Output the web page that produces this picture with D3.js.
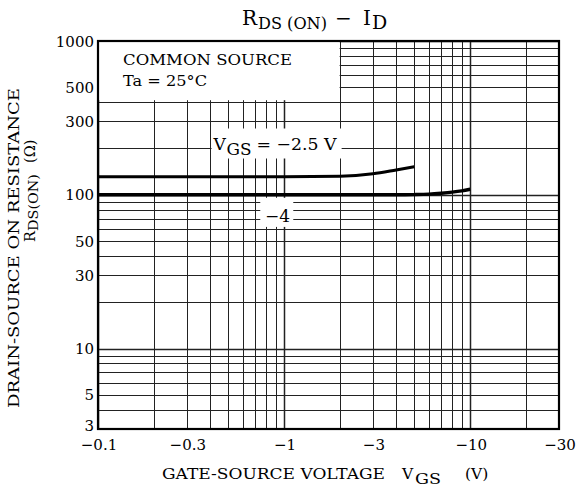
<!DOCTYPE html>
<html><head><meta charset="utf-8">
<script src="https://cdn.jsdelivr.net/npm/d3@7"></script>
<style>
body{margin:0;background:#fff;}
svg text{font-family:"DejaVu Serif","Liberation Serif",serif;fill:#000;}
</style></head>
<body><svg id="c" width="577" height="488"></svg>
<script>
// ---- data ----
const xTickValues = [-0.1, -0.3, -1, -3, -10, -30];
const xTickLabels = ["\u22120.1", "\u22120.3", "\u22121", "\u22123", "\u221210", "\u221230"];
const yTickValues = [3, 5, 10, 30, 50, 100, 300, 500, 1000];
const yTickLabels = ["3", "5", "10", "30", "50", "100", "300", "500", "1000"];
const seriesNames = ["\u22122.5", "\u22124"];
const vgs25X = [-0.1, -1, -2, -3, -4, -5];
const vgs25Y = [131, 131, 132, 137, 145, 152];
const vgs4X = [-0.1, -1, -4, -5, -6, -7, -8, -9, -10];
const vgs4Y = [100, 100, 100, 100.3, 101, 102.4, 104, 106, 108.6];

const svg = d3.select("#c");
const L = 98, R = 559, T = 41, B = 429;
const x = d3.scaleLog().domain([0.1, 30]).range([L, R]);
const y = d3.scaleLog().domain([3, 1000]).range([B, T]);
const X = v => x(Math.abs(v));

// fitted text segment helper (mild stretch only)
function seg(parent, txt, x0, x1, base, size) {
  return parent.append("text").attr("x", x0).attr("y", base).attr("font-size", size)
    .attr("textLength", x1 - x0).attr("lengthAdjust", "spacingAndGlyphs").text(txt);
}
function txt(parent, t, x0, base, size) {
  return parent.append("text").attr("x", x0).attr("y", base).attr("font-size", size).text(t);
}

// grid
const g = svg.append("g");
const isDecade = v => Math.abs(Math.log10(v) - Math.round(Math.log10(v))) < 1e-9;
g.selectAll(".vx").data(x.ticks()).join("line")
  .attr("x1", d => Math.round(x(d)) + 0.5).attr("x2", d => Math.round(x(d)) + 0.5)
  .attr("y1", T).attr("y2", B)
  .attr("stroke", "#222").attr("stroke-width", d => isDecade(d) ? 1.5 : 1);
g.selectAll(".hy").data(y.ticks()).join("line")
  .attr("y1", d => Math.round(y(d)) + 0.5).attr("y2", d => Math.round(y(d)) + 0.5)
  .attr("x1", L).attr("x2", R)
  .attr("stroke", "#222").attr("stroke-width", d => isDecade(d) ? 1.5 : 1);

// legend box (white)
svg.append("rect").attr("x", L).attr("y", T)
  .attr("width", x(2) - L - 0.5).attr("height", y(400) - T - 2).attr("fill", "#fff");
seg(svg, "COMMON SOURCE", 123, 292, 64.5, 15);
seg(svg, "Ta = 25\u00B0C", 123, 207, 85.5, 15);

// curve label boxes
svg.append("rect").attr("x", X(-0.4) + 1.5).attr("y", y(200) - 20)
  .attr("width", X(-2) + 1.5 - X(-0.4) - 1.5).attr("height", 30).attr("fill", "#fff");
svg.append("rect").attr("x", X(-0.7) + 5).attr("y", y(100) + 3)
  .attr("width", 33).attr("height", y(60) - y(100) - 5).attr("fill", "#fff");

// frame
svg.append("rect").attr("x", L).attr("y", T).attr("width", R - L).attr("height", B - T)
  .attr("fill", "none").attr("stroke", "#000").attr("stroke-width", 2.2);

// curves
const line = d3.line().x(d => X(d[0])).y(d => y(d[1])).curve(d3.curveMonotoneX);
svg.append("path").datum(vgs25X.map((v, i) => [v, vgs25Y[i]]))
  .attr("d", line).attr("fill", "none").attr("stroke", "#000").attr("stroke-width", 3);
svg.append("path").datum(vgs4X.map((v, i) => [v, vgs4Y[i]]))
  .attr("d", line).attr("fill", "none").attr("stroke", "#000").attr("stroke-width", 3.4);

// curve labels
const lx = X(-0.4) + 3.5, lb = y(200) + 2;
txt(svg, "V", lx, lb, 17);
seg(svg, "GS", lx + 13, lx + 38, lb + 5, 16);
seg(svg, "= " + seriesNames[0] + " V", lx + 43, lx + 123, lb, 16.5);
seg(svg, seriesNames[1], X(-0.8) - 1, X(-0.8) + 24, y(70) + 3, 17);

// y tick labels
svg.append("g").selectAll("text").data(yTickValues).join("text")
  .attr("x", 94).attr("y", d => Math.min(y(d) + 5.5, B + 2)).attr("text-anchor", "end").attr("font-size", 15)
  .text((d, i) => yTickLabels[i]);
// x tick labels
svg.append("g").selectAll("text").data(xTickValues).join("text")
  .attr("x", d => X(d) + 1).attr("y", 449.5).attr("text-anchor", "middle").attr("font-size", 15)
  .text((d, i) => xTickLabels[i]);

// title
txt(svg, "R", 242, 25, 20);
seg(svg, "DS (ON)", 258, 327, 28.5, 17.5);
txt(svg, "\u2212", 335, 25, 20);
txt(svg, "I", 363, 25, 20);
txt(svg, "D", 372, 28.5, 19);

// x axis title
seg(svg, "GATE-SOURCE VOLTAGE", 162, 385, 479, 15.5);
txt(svg, "V", 402, 479, 15.5);
seg(svg, "GS", 415, 441, 484, 15.5);
txt(svg, "(V)", 465, 479, 15.5);

// y axis title
const yt = svg.append("g").attr("transform", "translate(19,408) rotate(-90)");
seg(yt, "DRAIN-SOURCE ON RESISTANCE", 0, 320, 0, 15.5);
const yt2 = svg.append("g").attr("transform", "translate(35,242) rotate(-90)");
txt(yt2, "R", 0, 0, 14.5);
seg(yt2, "DS(ON)", 11, 68, 3, 13.5);
txt(yt2, "(\u03A9)", 79, 0, 14.5);
</script></body></html>
